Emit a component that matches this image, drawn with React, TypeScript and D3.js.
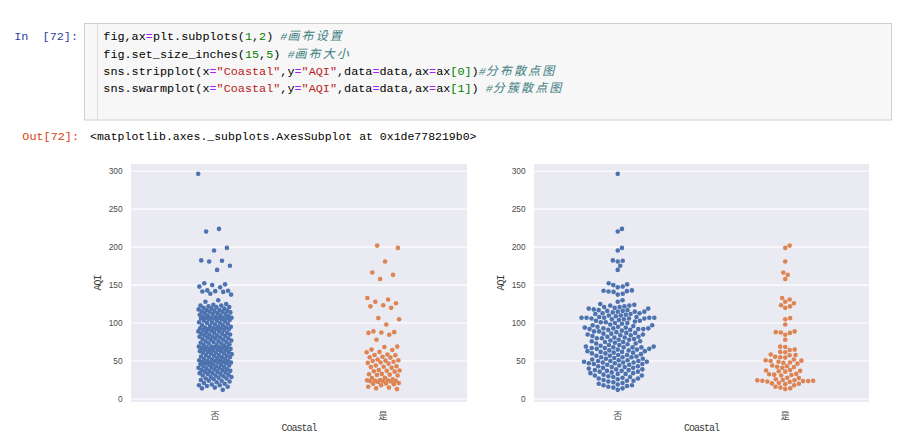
import React from 'react';
import * as d3 from 'd3';

// ---------- data ----------
const categories = ['否', '是'];
const yTicks = [0, 50, 100, 150, 200, 250, 300];

// AQI values for inland cities (Coastal = 否)
const aqiInland = [
  296.5, 224, 220.5, 199, 195.5, 182.5, 182, 181, 175.5, 170,
  152.5, 151, 150, 148, 147, 143, 142.5, 142, 141.5, 141, 138.5, 137.5, 130, 128,
  125, 124, 123, 123, 122, 121, 121, 120,
  119, 119, 118, 117, 117, 116, 116, 115, 115, 115,
  114, 113, 113, 112, 112, 111, 110, 110,
  109, 108, 108, 107, 107, 107, 107, 107, 106, 106, 106, 105, 105,
  104, 103, 103, 102, 101, 101, 100, 100,
  99, 98, 97, 97, 96, 95, 95, 94,
  94, 93, 93, 93, 92, 92, 92, 91, 91, 90, 89,
  89, 88, 87, 87, 86, 86, 85, 85, 84,
  84, 83, 82, 82, 81, 81, 80, 80, 79,
  78, 78, 77, 76, 76, 75, 75, 74,
  73, 73, 72, 71, 71, 70, 69,
  69, 68, 68, 68, 68, 67, 67, 66, 66, 65, 65, 64,
  64, 63, 63, 62, 62, 61, 61, 60, 60, 59,
  58, 58, 57, 57, 56, 55, 55, 55,
  54, 53, 53, 52, 51, 51, 50, 50, 50,
  49, 49, 48, 48, 48, 47, 47, 46, 46, 45, 45,
  44, 43, 43, 42, 42, 41, 41, 40,
  39, 39, 38, 38, 37, 37, 36, 36, 35,
  34, 34, 33, 33, 32, 31, 31, 30,
  29, 29, 28, 27, 27, 26, 25,
  24, 24, 23, 22, 21, 20,
  19, 18, 18, 17, 16,
  15, 14, 12,
];

// AQI values for coastal cities (Coastal = 是)
const aqiCoastal = [
  202, 199, 181, 166.5, 163.5, 158,
  133, 131, 128, 126, 123.5, 122, 120,
  106.5, 105, 98, 89, 88, 87.5, 87, 84.5, 78,
  69, 68.5, 65, 64.5, 62, 61.5, 58.5, 58, 57.5, 55.5, 55, 54.5,
  52, 51, 50.5, 50, 49, 48, 47.5, 46.5,
  44, 43, 42.5, 42, 41, 38, 37.5, 37, 36.5, 36,
  33, 32.5, 32, 31.5, 31, 28, 27.5,
  26, 25, 24.5, 24.5, 24, 24, 23.5, 23.5, 23, 22.5,
  21, 20.5, 20, 19.5, 18, 16, 15, 14, 13,
];

const seriesValues = [aqiInland, aqiCoastal];
const seriesColors = ['#4c72b0', '#dd8452'];

// ---------- notebook text ----------
type Tok = [string, string];
const codeLines: Tok[][] = [
  [['fig,ax', 'n'], ['=', 'o'], ['plt.subplots(', 'n'], ['1', 'm'], [',', 'n'], ['2', 'm'], [') ', 'n'], ['#', 'c'], ['画布设置', 'cj']],
  [['fig.set_size_inches(', 'n'], ['15', 'm'], [',', 'n'], ['5', 'm'], [') ', 'n'], ['#', 'c'], ['画布大小', 'cj']],
  [['sns.stripplot(x', 'n'], ['=', 'o'], ['"Coastal"', 's'], [',y', 'n'], ['=', 'o'], ['"AQI"', 's'], [',data', 'n'], ['=', 'o'], ['data,ax', 'n'], ['=', 'o'], ['ax', 'n'], ['[0]', 'm'], [')', 'n'], ['#', 'c'], ['分布散点图', 'cj']],
  [['sns.swarmplot(x', 'n'], ['=', 'o'], ['"Coastal"', 's'], [',y', 'n'], ['=', 'o'], ['"AQI"', 's'], [',data', 'n'], ['=', 'o'], ['data,ax', 'n'], ['=', 'o'], ['ax', 'n'], ['[1]', 'm'], [') ', 'n'], ['#', 'c'], ['分簇散点图', 'cj']],
];
const inPrompt = 'In  [72]:';
const outPrompt = 'Out[72]:';
const outText = '<matplotlib.axes._subplots.AxesSubplot at 0x1de778219b0>';
const xLabel = 'Coastal';
const yLabel = 'AQI';

const tokColor: Record<string, string> = {
  n: '#000000', o: '#aa22ff', m: '#008000', s: '#ba2121', c: '#408080', cj: '#408080',
};

const MONO = '"Liberation Mono", "DejaVu Sans Mono", monospace';
const CJK = '"Noto Sans CJK SC", sans-serif';

// ---------- layout ----------
const W = 902, H = 442;
const plotTop = 164, plotBottom = 402;
const panels = [
  { left: 131, right: 467, kind: 'strip' },
  { left: 534, right: 869, kind: 'swarm' },
];

const yScale = d3.scaleLinear().domain([-4, 309.5]).range([plotBottom, plotTop]);

function beeswarm(values: number[], cx: number, d: number) {
  const sorted = [...values].sort((a, b) => a - b);
  const swarm: { x: number; y: number }[] = [];
  for (const v of sorted) {
    const y = yScale(v);
    const neighbors: { x: number; y: number }[] = [];
    for (let k = swarm.length - 1; k >= 0; k--) {
      const p = swarm[k];
      if (Math.abs(y - p.y) < d) neighbors.push(p);
      else break;
    }
    const cands = [{ x: cx, y }];
    for (const n of neighbors) {
      const dy = y - n.y;
      const dx = Math.sqrt(Math.max(d * d - dy * dy, 0)) * 1.05;
      cands.push({ x: n.x + dx, y }, { x: n.x - dx, y });
    }
    cands.sort((a, b) => Math.abs(a.x - cx) - Math.abs(b.x - cx));
    let chosen = cands[cands.length - 1];
    for (const c of cands) {
      if (neighbors.every((n) => (c.x - n.x) ** 2 + (c.y - n.y) ** 2 >= d * d - 1e-6)) {
        chosen = c;
        break;
      }
    }
    swarm.push(chosen);
  }
  return swarm;
}

const GOLD = 0.6180339887498949;

function Panel({ left, right, kind }: { left: number; right: number; kind: string }) {
  const x = d3.scaleBand<string>().domain(categories).range([left, right]).paddingInner(0).paddingOuter(0);
  const bw = x.bandwidth();
  const cxOf = (c: string) => (x(c) as number) + bw / 2;
  const r = 2.3;

  const dots: JSX.Element[] = [];
  categories.forEach((cat, ci) => {
    const vals = seriesValues[ci];
    const cx = cxOf(cat);
    if (kind === 'strip') {
      vals.forEach((v, i) => {
        const j = (((i + ci * 7) * GOLD) % 1) * 2 - 1;
        dots.push(<circle key={`${ci}-${i}`} cx={cx + j * 0.1 * bw} cy={yScale(v)} r={r} fill={seriesColors[ci]} />);
      });
    } else {
      beeswarm(vals, cx, 4.8).forEach((p, i) => {
        dots.push(<circle key={`${ci}-${i}`} cx={p.x} cy={p.y} r={r} fill={seriesColors[ci]} />);
      });
    }
  });

  const midX = (left + right) / 2;
  const midY = (plotTop + plotBottom) / 2;
  return (
    <g>
      <rect x={left} y={plotTop} width={right - left} height={plotBottom - plotTop} fill="#eaeaf2" />
      {yTicks.map((t) => (
        <line key={t} x1={left} x2={right} y1={yScale(t)} y2={yScale(t)} stroke="#ffffff" strokeWidth={1.1} />
      ))}
      {yTicks.map((t) => (
        <text key={'l' + t} x={left - 8.5} y={yScale(t)} textAnchor="end" dominantBaseline="central"
          fontFamily='"Liberation Sans", Arial, sans-serif' fontSize={8.3} fill="#4a4a4a">{t}</text>
      ))}
      {categories.map((c) => (
        <text key={c} x={cxOf(c)} y={415} textAnchor="middle" dominantBaseline="central"
          fontFamily={CJK} fontSize={9} fill="#4a4a4a">{c}</text>
      ))}
      <text x={midX} y={428} textAnchor="middle" dominantBaseline="central" fontFamily={MONO}
        fontSize={10} letterSpacing={-1} fill="#3a3a3a">{xLabel}</text>
      <text transform={`translate(${left - 33},${midY}) rotate(-90)`} textAnchor="middle" dominantBaseline="central"
        fontFamily={MONO} fontSize={10} letterSpacing={-1} fill="#3a3a3a">{yLabel}</text>
      {dots}
    </g>
  );
}

export default function App() {
  const codeX = 103.3;
  const lineBase = [40, 57.5, 75, 92.3];
  return (
    <svg width={W} height={H} viewBox={`0 0 ${W} ${H}`}
      style={{ position: 'absolute', left: 0, top: 0, background: '#ffffff' }}>
      <rect x={0} y={0} width={W} height={H} fill="#ffffff" />
      {/* input prompt */}
      <text x={78} y={40} textAnchor="end" fontFamily={MONO} fontSize={11.8} fill="#303f9f" style={{ whiteSpace: 'pre' }}>
        {inPrompt}
      </text>
      {/* code cell */}
      <rect x={84.5} y={23.5} width={807} height={96.5} fill="#f7f7f7" stroke="#cfcfcf" strokeWidth={1} />
      <line x1={97.5} x2={97.5} y1={24} y2={119.5} stroke="#dddddd" strokeWidth={1} />
      {codeLines.map((toks, li) => (
        <text key={li} x={codeX} y={lineBase[li]} fontFamily={MONO} fontSize={11.8} style={{ whiteSpace: 'pre' }}>
          {toks.map(([t, k], ti) => (
            <tspan key={ti} fill={tokColor[k]}
              fontStyle={k === 'c' || k === 'cj' ? 'italic' : 'normal'}
              fontFamily={k === 'cj' ? CJK : MONO}
              fontSize={k === 'cj' ? 12 : 11.8}
              letterSpacing={k === 'cj' ? 2.1 : 0}>{t}</tspan>
          ))}
        </text>
      ))}
      {/* output prompt */}
      <text x={79} y={140} textAnchor="end" fontFamily={MONO} fontSize={11.8} fill="#d84315">{outPrompt}</text>
      <text x={90} y={140} fontFamily={MONO} fontSize={11.5} fill="#000000">{outText}</text>
      {panels.map((p, i) => (
        <Panel key={i} left={p.left} right={p.right} kind={p.kind} />
      ))}
    </svg>
  );
}
